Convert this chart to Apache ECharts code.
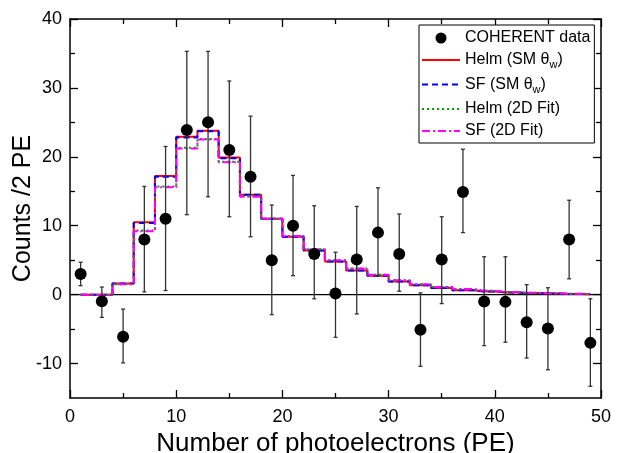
<!DOCTYPE html>
<html><head><meta charset="utf-8">
<script src="https://cdn.jsdelivr.net/npm/echarts@6/dist/echarts.min.js"></script>
<style>html,body{margin:0;padding:0;background:#fff}#c{width:623px;height:453px}</style>
</head><body><div id="c"></div>
<script>
// ---- data ----
const xs = [1,3,5,7,9,11,13,15,17,19,21,23,25,27,29,31,33,35,37,39,41,43,45,47,49];
const counts  = [3.0,-0.97,-6.1,8.0,11.0,23.9,25.0,21.0,17.1,5.0,10.0,5.9,0.15,5.1,9.0,5.9,-5.1,5.1,14.9,-1.0,-1.05,-4.0,-4.9,8.0,-7.0];
const errHigh = [4.7,1.1,-2.1,15.7,21.5,35.3,35.3,31.0,25.9,13.0,17.3,12.9,6.15,12.8,15.5,11.7,0.25,11.3,21.1,5.5,5.5,1.45,1.0,13.7,-0.6];
const errLow  = [1.3,-3.3,-9.9,0.4,0.6,11.6,14.2,11.3,8.4,-2.9,2.75,-0.6,-6.2,-2.8,2.75,0.5,-10.4,-1.3,9.0,-7.4,-6.9,-9.2,-10.9,2.3,-13.3];
const helmSM = [0,0,1.6,10.5,17.2,22.9,23.8,19.9,14.5,11.0,8.4,6.4,4.8,3.5,2.75,1.9,1.35,0.97,0.65,0.45,0.32,0.22,0.15,0.1,0.07];
const sfSM   = [0,0,1.6,10.4,17.1,22.8,23.7,19.8,14.5,11.0,8.4,6.4,4.8,3.5,2.75,1.9,1.35,0.97,0.65,0.45,0.32,0.22,0.15,0.1,0.07];
const helm2D = [0,0,1.5,9.3,15.7,21.3,22.6,19.3,14.3,11.0,8.5,6.6,5.0,3.8,2.9,2.1,1.5,1.1,0.8,0.55,0.4,0.28,0.2,0.13,0.09];
const sf2D   = [0,0,1.5,9.2,15.6,21.2,22.5,19.2,14.2,11.0,8.5,6.6,5.0,3.8,2.9,2.1,1.5,1.1,0.8,0.55,0.4,0.28,0.2,0.13,0.09];
const xTicks = [0,10,20,30,40,50];
const yTicks = [-10,0,10,20,30,40];
const yMinorTicks = [-5,5,15,25,35];

const FONT = 'Liberation Sans, Arial, sans-serif';
const pair = (ys) => xs.map((x,i)=>[x,ys[i]]);

const chart = echarts.init(document.getElementById('c'));
const AX = {color:'#000',width:1.5};
const TK = {color:'#000',width:1.3};
const xBase = (pos, labels) => ({
  type:'value',min:0,max:50,interval:10,position:pos,
  axisLine:{show:true,onZero:false,lineStyle:AX},
  axisTick:{show:true,inside:true,length:8,lineStyle:TK},
  minorTick:{show:true,splitNumber:2,length:5,lineStyle:TK},
  splitLine:{show:false},
  axisLabel:labels
});
const yMajor = (pos, labels) => ({
  type:'value',min:-15,max:40,interval:5,position:pos,
  axisLine:{show:true,onZero:false,lineStyle:AX},
  axisTick:{show:true,inside:true,length:8,lineStyle:TK,customValues:yTicks},
  splitLine:{show:false},
  axisLabel:labels
});
const yMinor = (pos) => ({
  type:'value',min:-15,max:40,interval:5,position:pos,offset:0,
  axisLine:{show:false,onZero:false},
  axisTick:{show:true,inside:true,length:5,lineStyle:TK,customValues:yMinorTicks},
  splitLine:{show:false},
  axisLabel:{show:false}
});

const xMain = xBase('bottom',{fontFamily:FONT,fontSize:18,color:'#000',margin:10});
Object.assign(xMain,{name:'Number of photoelectrons (PE)',nameLocation:'middle',nameGap:33,nameMoveOverlap:false,
  nameTextStyle:{fontFamily:FONT,fontSize:26,color:'#000'}});
const yMain = yMajor('left',{fontFamily:FONT,fontSize:18,color:'#000',margin:8,customValues:yTicks,
  formatter:v=>String(v)});
Object.assign(yMain,{name:'Counts /2 PE',nameLocation:'middle',nameGap:34,nameRotate:90,nameMoveOverlap:false,
  nameTextStyle:{fontFamily:FONT,fontSize:25,color:'#000'}});

const option = {
  animation:false,
  backgroundColor:'#fff',
  grid:{left:70,right:22,top:19,bottom:55,outerBoundsMode:'none',containLabel:false},
  legend:{
    orient:'vertical', left:419, top:25,
    borderColor:'#000', borderWidth:1, backgroundColor:'#fff',
    padding:[5,4,4,2], itemGap:6, itemWidth:38, itemHeight:11,
    textStyle:{fontFamily:FONT,fontSize:16,color:'#000',
      rich:{a:{fontFamily:FONT,fontSize:16,color:'#000'},
            s:{fontFamily:FONT,fontSize:11,color:'#000',verticalAlign:'bottom',padding:[10,0,0,0]}}},
    formatter:function(n){
      if(n==='Helm (SM θw)') return '{a|Helm (SM θ}{s|w}{a|)}';
      if(n==='SF (SM θw)') return '{a|SF (SM θ}{s|w}{a|)}';
      return n;
    },
    data:[
      {name:'COHERENT data',icon:'circle',itemStyle:{opacity:1,color:'#000'}},
      {name:'Helm (SM θw)',itemStyle:{opacity:0}},
      {name:'SF (SM θw)',itemStyle:{opacity:0}},
      {name:'Helm (2D Fit)',itemStyle:{opacity:0}},
      {name:'SF (2D Fit)',itemStyle:{opacity:0}}
    ]
  },
  xAxis:[ xMain, xBase('top',{show:false}) ],
  yAxis:[ yMain, yMajor('right',{show:false}), yMinor('left'), yMinor('right') ],
  series:[
    {type:'line',name:'zero',data:[[0,0],[50,0]],symbol:'none',silent:true,
      lineStyle:{color:'#000',width:1.2},z:1},
    {type:'line',name:'Helm (SM θw)',step:'middle',data:pair(helmSM),symbol:'none',showSymbol:false,
      lineStyle:{color:'#ff0000',width:2},itemStyle:{color:'#ff0000'},z:2},
    {type:'line',name:'SF (SM θw)',step:'middle',data:pair(sfSM),symbol:'none',showSymbol:false,
      lineStyle:{color:'#0000ff',width:2,type:[6,4]},itemStyle:{color:'#0000ff'},z:3},
    {type:'line',name:'Helm (2D Fit)',step:'middle',data:pair(helm2D),symbol:'none',showSymbol:false,
      lineStyle:{color:'#00a000',width:2,type:[2,3]},itemStyle:{color:'#00a000'},z:4},
    {type:'line',name:'SF (2D Fit)',step:'middle',data:pair(sf2D),symbol:'none',showSymbol:false,
      lineStyle:{color:'#ff00ff',width:2,type:[8,3,2,3]},itemStyle:{color:'#ff00ff'},z:5},
    {type:'custom',name:'err',silent:true,z:6,
      data:xs.map((x,i)=>[x,errLow[i],errHigh[i]]),
      renderItem:function(params,api){
        const lo=api.coord([api.value(0),api.value(1)]);
        const hi=api.coord([api.value(0),api.value(2)]);
        const st={stroke:'#333',lineWidth:1.3};
        return {type:'group',children:[
          {type:'line',shape:{x1:lo[0],y1:lo[1],x2:hi[0],y2:hi[1]},style:st},
          {type:'line',shape:{x1:lo[0]-2,y1:lo[1],x2:lo[0]+2,y2:lo[1]},style:st},
          {type:'line',shape:{x1:hi[0]-2,y1:hi[1],x2:hi[0]+2,y2:hi[1]},style:st}
        ]};
      }},
    {type:'scatter',name:'COHERENT data',data:pair(counts),symbol:'circle',symbolSize:12,
      itemStyle:{color:'#000',opacity:1},z:7}
  ]
};
chart.setOption(option);
</script></body></html>
